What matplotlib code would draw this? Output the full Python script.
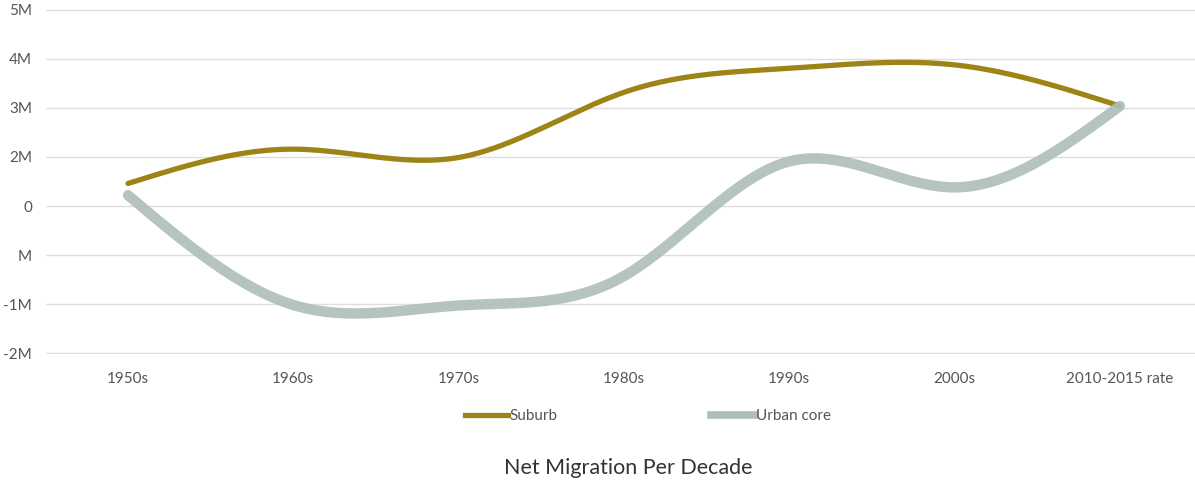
import matplotlib
matplotlib.use("Agg")
import matplotlib.pyplot as plt
import numpy as np
from matplotlib.lines import Line2D

# Values in gridline units (gridlines sit at -2..5, labelled as printed on the chart)
decades = ['1950s', '1960s', '1970s', '1980s', '1990s', '2000s', '2010-2015 rate']
suburb = [1.46, 2.16, 1.99, 3.32, 3.81, 3.88, 3.04]
urbanCore = [1.22, -1.02, -1.03, -0.43, 1.91, 1.38, 3.04]
yTicks = [5, 4, 3, 2, 1, 0, -1, -2]
yTickLabels = ['5M', '4M', '3M', '2M', '0', 'M', '-1M', '-2M']

plt.rcParams['font.family'] = ['Lato', 'DejaVu Sans']


def naturalSpline(xs, ys, num=400):
    # natural cubic spline through the points, only used to draw a smooth curve
    xs = np.asarray(xs, float)
    ys = np.asarray(ys, float)
    n = len(xs)
    h = np.diff(xs)
    A = np.zeros((n, n))
    b = np.zeros(n)
    A[0, 0] = 1
    A[-1, -1] = 1
    for i in range(1, n - 1):
        A[i, i - 1] = h[i - 1]
        A[i, i] = 2 * (h[i - 1] + h[i])
        A[i, i + 1] = h[i]
        b[i] = 3 * ((ys[i + 1] - ys[i]) / h[i] - (ys[i] - ys[i - 1]) / h[i - 1])
    c = np.linalg.solve(A, b)
    xx = np.linspace(xs[0], xs[-1], num)
    yy = np.empty_like(xx)
    for k, x in enumerate(xx):
        i = min(np.searchsorted(xs, x, side='right') - 1, n - 2)
        dx = x - xs[i]
        bi = (ys[i + 1] - ys[i]) / h[i] - h[i] * (2 * c[i] + c[i + 1]) / 3
        di = (c[i + 1] - c[i]) / (3 * h[i])
        yy[k] = ys[i] + bi * dx + c[i] * dx ** 2 + di * dx ** 3
    return xx, yy


fig = plt.figure(figsize=(11.95, 4.82), dpi=100)
ax = fig.add_axes([46 / 1195, 1 - 354 / 482, 1 - 46 / 1195, 345 / 482])

xPos = np.arange(len(decades))
suburbColor = '#9e8416'
urbanColor = '#adbeb8'

sx, sy = naturalSpline(xPos, suburb)
ux, uy = naturalSpline(xPos, urbanCore)
ax.plot(sx, sy, color=suburbColor, lw=3.8, solid_capstyle='round', zorder=3)
ax.plot(ux, uy, color=urbanColor, lw=7.5, alpha=0.9, solid_capstyle='round', zorder=4)

ax.set_xlim(-0.496, 6.454)
ax.set_ylim(-2.02, 5.02)
ax.set_yticks(yTicks)
ax.set_yticklabels(yTickLabels)
ax.set_xticks(xPos)
ax.set_xticklabels(decades)
ax.tick_params(axis='both', length=0, labelsize=11, colors='#555555')
ax.tick_params(axis='y', pad=10)
ax.tick_params(axis='x', pad=13)
ax.grid(axis='y', color='#dedede', lw=1)
ax.set_axisbelow(True)
for s in ax.spines.values():
    s.set_visible(False)

handles = [Line2D([], [], color=suburbColor, lw=3.8),
           Line2D([], [], color=urbanColor, lw=5.5)]
fig.legend(handles, ['Suburb', 'Urban core'], loc='center', ncol=2,
           bbox_to_anchor=(0.542, 1 - 416 / 482), frameon=False,
           handlelength=2.8, handletextpad=0.1, columnspacing=10.1,
           prop={'size': 11}, labelcolor='#555555')

fig.text(628 / 1195, 1 - 468 / 482, 'Net Migration Per Decade', ha='center',
         va='center', fontsize=15.5, color='#333333')

fig.savefig('out.png', dpi=100)
